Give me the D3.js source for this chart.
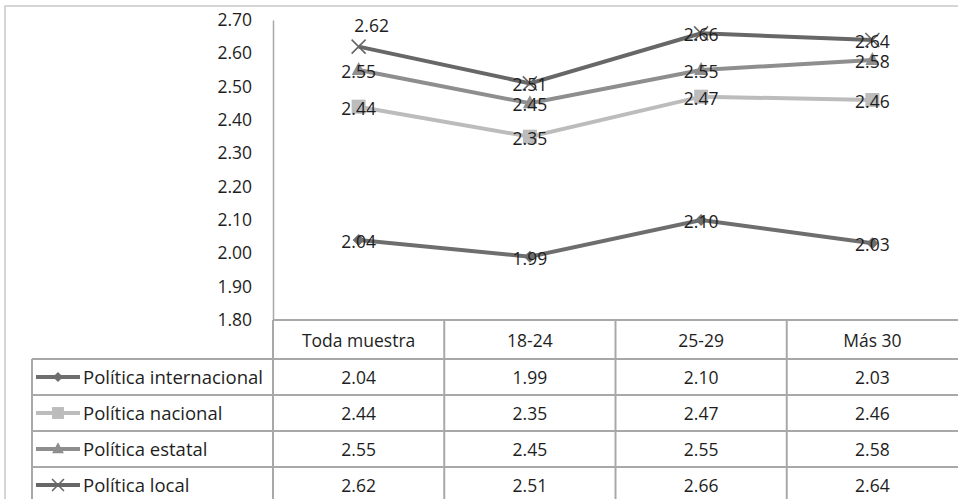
<!DOCTYPE html>
<html><head><meta charset="utf-8">
<script src="https://cdn.jsdelivr.net/npm/d3@7/dist/d3.min.js"></script>
<style>body{margin:0;background:#fff}svg{display:block;font-family:"Open Sans",Lato,sans-serif}</style>
</head><body><svg id="c" width="958" height="499"></svg>
<script>
const categories = ["Toda muestra","18-24","25-29","Más 30"];
const seriesNames = ["Política internacional","Política nacional","Política estatal","Política local"];
const internacional = [2.04,1.99,2.10,2.03];
const nacional = [2.44,2.35,2.47,2.46];
const estatal = [2.55,2.45,2.55,2.58];
const local = [2.62,2.51,2.66,2.64];
const yTicks = [1.80,1.90,2.00,2.10,2.20,2.30,2.40,2.50,2.60,2.70];
const seriesValues = [internacional,nacional,estatal,local];
const colors = ["#6e6e6e","#bcbcbc","#8e8e8e","#676767"];
const markers = ["diamond","square","triangle","cross"];

const FONT = "'Open Sans',Lato,sans-serif";
const svg = d3.select("#c");
const W=958,H=499;
const plotL=273, plotR=958, plotT=20, plotB=320;
const rowTop=[359,395,431,467], rowH=36, tableL=32;
const grid="#a8a8a8", txt="#1e1e1e";

const x = d3.scaleBand().domain(categories).range([plotL,plotR]);
const y = d3.scaleLinear().domain([1.8,2.7]).range([plotB,plotT]);

// outer frame
svg.append("path").attr("d",`M5,${H} V6 H${W}`).attr("fill","none").attr("stroke","#c8c8c8").attr("stroke-width",1.5);

// y axis
const ya = svg.append("g").attr("transform",`translate(${plotL},0)`)
  .call(d3.axisLeft(y).tickValues(yTicks).tickFormat(d3.format(".2f")).tickSize(0).tickPadding(21));
ya.select(".domain").attr("stroke",grid).attr("stroke-width",1.5);
ya.selectAll("text").attr("font-size",17.5).attr("fill",txt).attr("font-family",FONT);

// table lines
const g = svg.append("g").attr("stroke",grid).attr("stroke-width",2).attr("fill","none");
g.append("line").attr("x1",plotL).attr("x2",W).attr("y1",plotB).attr("y2",plotB);
rowTop.forEach(t=>g.append("line").attr("x1",tableL).attr("x2",W).attr("y1",t).attr("y2",t));
g.append("line").attr("x1",tableL).attr("x2",tableL).attr("y1",rowTop[0]).attr("y2",H);
categories.forEach(c=>g.append("line").attr("x1",x(c)).attr("x2",x(c)).attr("y1",plotB).attr("y2",H));

// header
svg.selectAll(".hdr").data(categories).join("text")
  .attr("x",d=>x(d)+x.bandwidth()/2).attr("y",(plotB+rowTop[0])/2+7)
  .attr("text-anchor","middle").attr("font-size",17.5).attr("fill",txt).text(d=>d);

function marker(sel,type,color,s){
  s = s||1;
  if(type==="diamond") sel.append("path").attr("d",`M0,${-6*s}L${6*s},0L0,${6*s}L${-6*s},0Z`).attr("fill",color);
  else if(type==="square") sel.append("rect").attr("x",-7*s).attr("y",-7*s).attr("width",14*s).attr("height",14*s).attr("fill",color);
  else if(type==="triangle") sel.append("path").attr("d",`M0,${-8*s}L${7*s},${5*s}L${-7*s},${5*s}Z`).attr("fill",color);
  else sel.append("path").attr("d",`M${-7*s},${-7*s}L${7*s},${7*s}M${-7*s},${7*s}L${7*s},${-7*s}`).attr("stroke",color).attr("stroke-width",1.6).attr("fill","none");
}

const cx = i => x(categories[i])+x.bandwidth()/2;
const line = d3.line().x((d,i)=>cx(i)).y(d=>y(d));
seriesValues.forEach((vals,si)=>{
  svg.append("path").attr("d",line(vals)).attr("fill","none").attr("stroke",colors[si]).attr("stroke-width",4);
  vals.forEach((v,i)=>{
    const m = svg.append("g").attr("transform",`translate(${cx(i)},${y(v)})`);
    marker(m,markers[si],colors[si]);
  });
});
// data labels
seriesValues.forEach((vals,si)=>{
  vals.forEach((v,i)=>{
    const above = (si===3 && i===0);
    svg.append("text").attr("x",cx(i)+(above?13:0))
      .attr("y",above? y(v)-15 : y(v)+8)
      .attr("text-anchor","middle").attr("font-size",17.5).attr("fill",txt).text(v.toFixed(2));
  });
});

// table rows
seriesNames.forEach((name,si)=>{
  const cy = rowTop[si]+rowH/2;
  svg.append("line").attr("x1",36).attr("x2",80).attr("y1",cy).attr("y2",cy).attr("stroke",colors[si]).attr("stroke-width",4);
  const m = svg.append("g").attr("transform",`translate(58,${cy})`);
  marker(m,markers[si],colors[si],0.85);
  svg.append("text").attr("x",83).attr("y",cy+6.5).attr("font-size",18.5).attr("fill",txt).text(name);
  seriesValues[si].forEach((v,i)=>{
    svg.append("text").attr("x",cx(i)).attr("y",cy+6.5)
      .attr("text-anchor","middle").attr("font-size",17.5).attr("fill",txt).text(v.toFixed(2));
  });
});
</script></body></html>
